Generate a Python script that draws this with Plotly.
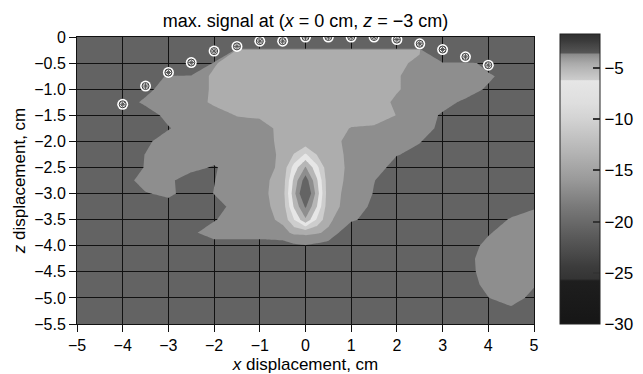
import plotly.graph_objects as go

# ---------------- data ----------------
x_cm = [-5.0, -4.5, -4.0, -3.5, -3.0, -2.5, -2.0, -1.5, -1.0, -0.5, -0.25, 0.0,
        0.25, 0.5, 1.0, 1.5, 2.0, 2.5, 3.0, 3.5, 4.0, 4.5, 5.0]
z_cm = [0.0, -0.25, -0.5, -0.75, -1.0, -1.25, -1.5, -1.75, -2.0, -2.25, -2.5,
        -2.75, -3.0, -3.25, -3.5, -3.75, -4.0, -4.25, -4.5, -4.75, -5.0, -5.25, -5.5]

# signal level (dB), rows = z, columns = x
signal_db = [
    [-42, -42, -42, -42, -42, -42, -42, -42, -42, -42, -42, -42, -42, -42, -42, -42, -42, -42, -42, -42, -42, -42, -42],
    [-42, -42, -42, -42, -42, -42, -42, -15.5, -15.5, -15.5, -15.5, -15.5, -15.5, -15.5, -15.5, -15.5, -15.5, -15.5, -42, -42, -42, -42, -42],
    [-42, -42, -42, -42, -42, -42, -16.2, -15, -15, -15, -15, -15, -15, -15, -15, -15, -15, -17, -17, -17, -19, -19, -19],
    [-19, -19, -19, -19, -17.8, -17, -15.7, -15, -15, -15, -15, -15, -15, -15, -15, -15, -15.8, -17, -17, -17, -17.6, -19, -19],
    [-19, -19, -19, -18.6, -17, -17, -15.7, -15, -15, -15, -15, -15, -15, -15, -15, -15, -15.8, -17, -17, -17, -18.3, -19, -19],
    [-19, -19, -19, -17.6, -17, -17, -15.6, -15, -15, -15, -15, -15, -15, -15, -15, -15, -16.4, -17, -17.3, -18.4, -19, -19, -19],
    [-19, -19, -19, -19, -17.4, -17, -17, -15.9, -15.6, -15, -15, -15, -15, -15, -15, -15, -16.05, -17, -18.25, -19, -19, -19, -19],
    [-19, -19, -19, -19, -18.15, -17, -17, -17, -17, -15.3, -15, -15, -15, -15, -16.1, -16.3, -17, -17, -18.56, -19, -19, -19, -19],
    [-19, -19, -19, -18.43, -17, -17, -17, -17, -17, -15.4, -15.3, -15.5, -15.3, -15.2, -16.6, -17, -17, -17.9, -19, -19, -19, -19, -19],
    [-19, -19, -19, -17.95, -17, -17, -17, -17, -17, -15.6, -13.9, -11.7, -14.1, -15.6, -16.2, -17, -17.9, -18.5, -19, -19, -19, -19, -19],
    [-19, -19, -19, -17.9, -17, -17.4, -18.2, -17, -17, -15.5, -11.1, -7.8, -11.4, -15.5, -16.2, -17, -18.85, -19, -19, -19, -19, -19, -19],
    [-19, -19, -19, -17, -17.6, -19, -18.05, -17, -16.6, -15.2, -9.4, -4.8, -9.7, -15.3, -16.36, -17.95, -19, -19, -19, -19, -19, -19, -19],
    [-19, -19, -19, -18.16, -17.5, -19, -17.95, -17, -16.6, -15.0, -8.6, -3.2, -8.9, -15.3, -16.55, -18.1, -19, -19, -19, -19, -19, -19, -19],
    [-19, -19, -19, -19, -19, -19, -19, -17.15, -16.7, -15.2, -9.7, -5.68, -10.0, -15.4, -16.6, -18.54, -19, -19, -19, -19, -19, -19, -18.3],
    [-19, -19, -19, -19, -19, -19, -18.16, -17, -16.8, -15.6, -12.0, -8.3, -12.3, -15.6, -17.6, -19, -19, -19, -19, -19, -19, -17.8, -17],
    [-19, -19, -19, -19, -19, -18.39, -17, -17, -17, -16.6, -15.6, -15.5, -15.8, -16.3, -20, -19, -19, -19, -19, -19, -18.2, -17, -17],
    [-19, -19, -19, -19, -19, -19, -19, -19, -19, -19, -18.4, -18.1, -18.5, -19, -19, -19, -19, -19, -19, -19, -17.4, -17, -17],
    [-19, -19, -19, -19, -19, -19, -19, -19, -19, -19, -19, -19, -19, -19, -19, -19, -19, -19, -19, -19, -16.6, -17, -17],
    [-19, -19, -19, -19, -19, -19, -19, -19, -19, -19, -19, -19, -19, -19, -19, -19, -19, -19, -19, -19, -16.8, -17, -17],
    [-19, -19, -19, -19, -19, -19, -19, -19, -19, -19, -19, -19, -19, -19, -19, -19, -19, -19, -19, -19, -17.4, -17, -17.8],
    [-19, -19, -19, -19, -19, -19, -19, -19, -19, -19, -19, -19, -19, -19, -19, -19, -19, -19, -19, -19, -18.05, -17, -18.67],
    [-19, -19, -19, -19, -19, -19, -19, -19, -19, -19, -19, -19, -19, -19, -19, -19, -19, -19, -19, -19, -19, -18.6, -19],
    [-19, -19, -19, -19, -19, -19, -19, -19, -19, -19, -19, -19, -19, -19, -19, -19, -19, -19, -19, -19, -19, -19, -19],
]

# contour levels and band fill colours (lowest band left transparent)
level_start, level_end, level_step = -18, -6, 2
band_colors = ['rgba(0,0,0,0)', '#8e8e8e', '#adadad', '#cdcdcd',
               '#e6e6e6', '#b6b6b6', '#8e8e8e', '#646464']

# sensor positions
sensor_x = [-4, -3.5, -3, -2.5, -2, -1.5, -1, -0.5, 0, 0.5, 1, 1.5, 2, 2.5, 3, 3.5, 4]
sensor_z = [-1.29, -0.94, -0.68, -0.49, -0.27, -0.18, -0.08, -0.08, 0.0, 0.0,
            0.0, 0.0, -0.05, -0.13, -0.24, -0.38, -0.54]

# colour bar scale
cb_min, cb_max = -30, -1.75
cb_values = [-30, -25.8, -25.6, -24.4, -23.1, -21.5, -20.2, -18.5, -15.9, -13.3,
             -10.1, -8.5, -6.3, -6.2, -5.2, -4.6, -4.1, -3.7, -3.6, -2.8, -2.3, -1.75]
cb_colors = ['#161616', '#1e1e1e', '#343434', '#3c3c3c', '#4a4a4a', '#5a5a5a',
             '#686868', '#7a7a7a', '#9a9a9a', '#b4b4b4', '#d2d2d2', '#dedede',
             '#e6e6e6', '#cccccc', '#b8b8b8', '#aaaaaa', '#999999', '#8a8a8a',
             '#555555', '#444444', '#383838', '#303030']
cb_tickvals = [-30, -25, -20, -15, -10, -5]
cb_ticktext = ['\u221230', '\u221225', '\u221220', '\u221215', '\u221210', '\u22125']

x_tickvals = [-5, -4, -3, -2, -1, 0, 1, 2, 3, 4, 5]
x_ticktext = ['\u22125', '\u22124', '\u22123', '\u22122', '\u22121', '0', '1', '2', '3', '4', '5']
z_tickvals = [0, -0.5, -1.0, -1.5, -2.0, -2.5, -3.0, -3.5, -4.0, -4.5, -5.0, -5.5]
z_ticktext = ['0', '\u22120.5', '\u22121.0', '\u22121.5', '\u22122.0', '\u22122.5', '\u22123.0',
              '\u22123.5', '\u22124.0', '\u22124.5', '\u22125.0', '\u22125.5']

# ---------------- build ----------------
nc = len(band_colors) - 1
band_scale = []
for i, c in enumerate(band_colors):
    lo = max(0.0, (i - 0.5) / nc)
    hi = min(1.0, (i + 0.5) / nc)
    band_scale.append([lo, c])
    band_scale.append([hi, c])

cb_scale = [[(v - cb_min) / (cb_max - cb_min), c] for v, c in zip(cb_values, cb_colors)]
cb_scale[0][0] = 0.0
cb_scale[-1][0] = 1.0

FONT = 'Liberation Sans, Arial, Helvetica, sans-serif'

fig = go.Figure()
fig.add_trace(go.Contour(
    x=x_cm, y=z_cm, z=signal_db,
    autocontour=False,
    contours=dict(start=level_start, end=level_end, size=level_step,
                  coloring='fill', showlines=False),
    line=dict(width=0, smoothing=0),
    colorscale=band_scale, showscale=False, hoverinfo='skip'))

fig.add_trace(go.Scatter(
    x=[None], y=[None], mode='markers', showlegend=False, hoverinfo='skip',
    marker=dict(color=[cb_min], cmin=cb_min, cmax=cb_max, colorscale=cb_scale,
                showscale=True,
                colorbar=dict(thickness=40, thicknessmode='pixels',
                              len=290, lenmode='pixels',
                              x=1.057, xanchor='left', xpad=0,
                              y=1.0094, yanchor='top', ypad=0,
                              outlinewidth=1, outlinecolor='#222222',
                              tickvals=cb_tickvals, ticktext=cb_ticktext,
                              ticks='inside', ticklen=7, tickwidth=1.5,
                              tickcolor='#333333',
                              tickfont=dict(family=FONT, size=17, color='black')))))

# sensor markers: white disc, dark ring, asterisk
fig.add_trace(go.Scatter(x=sensor_x, y=sensor_z, mode='markers', showlegend=False,
                         hoverinfo='skip',
                         marker=dict(symbol='circle', size=11, color='white',
                                     line=dict(width=0))))
fig.add_trace(go.Scatter(x=sensor_x, y=sensor_z, mode='markers', showlegend=False,
                         hoverinfo='skip',
                         marker=dict(symbol='circle-open', size=7, color='#3a3a3a',
                                     line=dict(width=1, color='#3a3a3a'))))
fig.add_trace(go.Scatter(x=sensor_x, y=sensor_z, mode='markers', showlegend=False,
                         hoverinfo='skip',
                         marker=dict(symbol='asterisk-open', size=5, color='#555555',
                                     line=dict(width=1, color='#555555'))))

axis_common = dict(showline=True, linecolor='#111111', linewidth=1, mirror=True,
                   ticks='outside', ticklen=7, tickcolor='#111111', tickwidth=1,
                   showgrid=True, gridcolor='#111111', gridwidth=1, zeroline=False,
                   automargin=False,
                   tickfont=dict(family=FONT, size=16, color='black'))

# the page body adds an 8 px margin, so the figure is drawn 8 px smaller
fig.update_layout(
    width=635, height=366,
    margin=dict(l=69, r=109, t=29, b=50, pad=0, autoexpand=False),
    paper_bgcolor='white', plot_bgcolor='#636363',
    font=dict(family=FONT, color='black'),
    title=dict(text='max. signal at (<i>x</i> = 0 cm, <i>z</i> = \u22123 cm)',
               x=0.5, xref='paper', xanchor='center',
               y=1 - 13 / 366, yref='container', yanchor='middle',
               font=dict(family=FONT, size=18, color='black')),
    xaxis=dict(range=[-5, 5], tickvals=x_tickvals, ticktext=x_ticktext,
               title=dict(text='<i>x</i> displacement, cm', standoff=4,
                          font=dict(family=FONT, size=17, color='black')),
               **axis_common),
    yaxis=dict(range=[-5.5, 0], tickvals=z_tickvals, ticktext=z_ticktext,
               title=dict(text='<i>z</i> displacement, cm', standoff=4,
                          font=dict(family=FONT, size=17, color='black')),
               **axis_common),
    showlegend=False,
)

fig.write_html('out.html')
